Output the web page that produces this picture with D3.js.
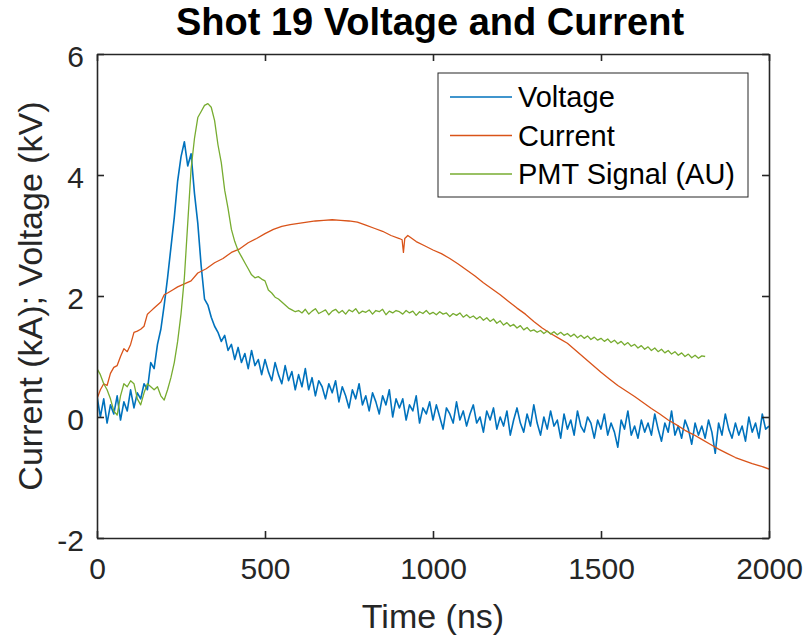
<!DOCTYPE html>
<html>
<head>
<meta charset="utf-8">
<script src="https://cdn.jsdelivr.net/npm/d3@7"></script>
<style>
  body { margin: 0; background: #fff; }
  text { font-family: "Liberation Sans", Arial, Helvetica, sans-serif; fill: #262626; }
</style>
</head>
<body>
<svg width="806" height="636"></svg>
<script>
var voltageDt = 10;
var pmtDt = 10;

// Voltage (kV), t = 0 .. 2000 ns
var voltageValues = [
  0.35, 0.0, 0.3, -0.1, 0.2, 0.05, 0.35, -0.05, 0.25, 0.1,
  0.45, 0.15, 0.4, 0.3, 0.55, 0.45, 0.9, 0.8, 1.2, 1.45,
  1.85, 2.3, 2.8, 3.3, 3.9, 4.3, 4.55, 4.15, 4.35, 3.7,
  3.2, 2.5, 1.95, 1.85, 1.65, 1.5, 1.4, 1.25, 1.35, 1.1,
  1.2, 0.95, 1.15, 0.9, 1.05, 0.8, 1.1, 0.85, 0.95, 0.7,
  0.95, 0.75, 0.6, 0.9, 0.7, 0.55, 0.85, 0.6, 0.75, 0.45,
  0.7, 0.5, 0.8, 0.45, 0.65, 0.35, 0.6, 0.5, 0.3, 0.55,
  0.4, 0.6, 0.25, 0.5, 0.35, 0.15, 0.45, 0.3, 0.55, 0.2,
  0.35, 0.1, 0.4, 0.25, 0.05, 0.35, 0.2, 0.45, 0.0, 0.3,
  0.15, 0.3, -0.05, 0.2, 0.1, 0.35, -0.1, 0.15, 0.05, 0.25,
  -0.05, 0.2, 0.0, -0.2, 0.15, 0.05, -0.1, 0.25, -0.05, 0.1,
  -0.15, 0.05, 0.2, -0.1, 0.0, -0.25, 0.1, -0.05, 0.15, -0.2,
  0.0, -0.15, 0.1, -0.3, -0.05, 0.15, -0.1, -0.25, 0.05, -0.15,
  0.2, -0.1, -0.3, 0.0, -0.2, 0.1, -0.15, -0.05, -0.35, 0.05,
  -0.2, -0.05, -0.3, 0.1, -0.15, -0.25, 0.0, -0.1, -0.35, -0.05,
  -0.2, 0.05, -0.3, -0.1, -0.25, -0.5, -0.05, -0.2, 0.1, -0.3,
  -0.15, -0.35, -0.05, -0.25, -0.1, -0.3, 0.05, -0.2, -0.4, -0.1,
  -0.25, 0.1, -0.3, -0.15, -0.35, -0.05, -0.2, -0.45, -0.1, -0.3,
  -0.15, -0.35, -0.05, -0.25, -0.6, -0.1, -0.3, 0.05, -0.2, -0.35,
  -0.1, -0.3, -0.15, -0.4, 0.0, -0.25, -0.1, -0.35, 0.05, -0.2,
  -0.15
];

// Current (kA)
var currentTimes = [
  0, 10, 20, 30, 40, 50, 60, 70, 80, 90, 100, 110, 120, 130, 140, 150, 160, 170, 180, 190,
  200, 210, 225, 240, 260, 280, 300, 325, 350, 375, 400, 425, 450, 475, 500, 525, 550, 575,
  600, 625, 650, 675, 700, 725, 750, 775, 800, 825, 850, 875, 900, 908, 912, 916, 925, 950,
  975, 1000, 1025, 1050, 1075, 1100, 1125, 1150, 1175, 1200, 1225, 1250, 1275, 1300, 1325,
  1350, 1375, 1400, 1425, 1450, 1475, 1500, 1525, 1550, 1575, 1600, 1625, 1650, 1675, 1700,
  1725, 1750, 1775, 1800, 1825, 1850, 1875, 1900, 1925, 1950, 1975, 2000
];
var currentValues = [
  0.3, 0.45, 0.55, 0.52, 0.72, 0.82, 0.85, 1.0, 1.13, 1.08, 1.2, 1.4, 1.42, 1.45, 1.5, 1.7, 1.75, 1.8, 1.85, 1.9,
  2.02, 2.05, 2.1, 2.15, 2.2, 2.25, 2.38, 2.45, 2.55, 2.62, 2.72, 2.78, 2.88, 2.95, 3.03, 3.1, 3.15, 3.18,
  3.2, 3.22, 3.24, 3.25, 3.26, 3.25, 3.24, 3.22, 3.17, 3.12, 3.07, 3.0, 2.95, 2.93, 2.72, 2.95, 3.0, 2.9,
  2.83, 2.76, 2.7, 2.62, 2.53, 2.43, 2.33, 2.22, 2.12, 2.02, 1.91, 1.8, 1.7, 1.58, 1.47,
  1.38, 1.3, 1.22, 1.1, 0.98, 0.86, 0.74, 0.63, 0.52, 0.43, 0.34, 0.24, 0.14, 0.05, -0.05,
  -0.13, -0.22, -0.29, -0.37, -0.45, -0.53, -0.6, -0.67, -0.72, -0.77, -0.81, -0.86
];

// PMT signal (AU), t = 0 .. 1810 ns
var pmtValues = [
  0.8, 0.7, 0.55, 0.45, 0.3, 0.1, 0.03, 0.35, 0.55, 0.5,
  0.6, 0.55, 0.3, 0.2, 0.4, 0.55, 0.5, 0.45, 0.5, 0.35,
  0.28, 0.45, 0.65, 0.9, 1.25, 1.7, 2.3, 3.2, 4.1, 4.6,
  4.95, 5.05, 5.15, 5.18, 5.12, 4.9, 4.5, 4.2, 3.75, 3.45,
  3.1, 2.9, 2.75, 2.65, 2.55, 2.45, 2.35, 2.3, 2.32, 2.28,
  2.25, 2.1, 2.05, 1.98, 1.95, 1.9, 1.85, 1.8, 1.77, 1.74,
  1.76, 1.72, 1.78, 1.70, 1.75, 1.79, 1.71, 1.74, 1.77, 1.69,
  1.75, 1.78, 1.72, 1.76, 1.70, 1.77, 1.74, 1.79, 1.71, 1.75,
  1.73, 1.77, 1.70, 1.76, 1.74, 1.78, 1.69, 1.75, 1.72, 1.76,
  1.74, 1.70, 1.76, 1.72, 1.75, 1.68, 1.74, 1.71, 1.76, 1.70,
  1.73, 1.69, 1.74, 1.70, 1.72, 1.66, 1.71, 1.68, 1.72, 1.65,
  1.69, 1.64, 1.67, 1.62, 1.66, 1.60, 1.64, 1.58, 1.62, 1.55,
  1.59, 1.52, 1.56, 1.50, 1.53, 1.47, 1.51, 1.44, 1.48, 1.42,
  1.44, 1.40, 1.43, 1.38, 1.42, 1.37, 1.41, 1.36, 1.40, 1.35,
  1.38, 1.33, 1.37, 1.31, 1.35, 1.30, 1.34, 1.28, 1.32, 1.27,
  1.30, 1.25, 1.29, 1.23, 1.27, 1.21, 1.25, 1.19, 1.23, 1.17,
  1.20, 1.14, 1.18, 1.12, 1.16, 1.10, 1.14, 1.08, 1.12, 1.06,
  1.10, 1.04, 1.08, 1.02, 1.06, 1.00, 1.04, 0.98, 1.02, 0.97,
  1.01, 1.00
];

var xTicks = [0, 500, 1000, 1500, 2000];
var yTicks = [-2, 0, 2, 4, 6];
var seriesNames = ["Voltage", "Current", "PMT Signal (AU)"];
var seriesColors = ["#0072BD", "#D95319", "#77AC30"];

function draw_chart() {
  var svg = d3.select("svg");
  var plotLeft = 97, plotRight = 769, plotTop = 54, plotBottom = 538;
  var axisColor = "#262626";
  var plainNumber = function(d) { return String(d); };   // hyphen minus like the original

  var x = d3.scaleLinear().domain([0, 2000]).range([plotLeft, plotRight]);
  var y = d3.scaleLinear().domain([-2, 6]).range([plotBottom, plotTop]);

  var voltage = voltageValues.map(function(v, i) { return [i * voltageDt, v]; });
  var current = currentTimes.map(function(t, i) { return [t, currentValues[i]]; });
  var pmt = pmtValues.map(function(v, i) { return [i * pmtDt, v]; });

  svg.append("defs").append("clipPath").attr("id", "plotclip")
    .append("rect").attr("x", plotLeft).attr("y", plotTop)
    .attr("width", plotRight - plotLeft).attr("height", plotBottom - plotTop);

  var line = d3.line()
    .x(function(d) { return x(d[0]); })
    .y(function(d) { return y(d[1]); });

  var lines = svg.append("g").attr("clip-path", "url(#plotclip)");
  [voltage, current, pmt].forEach(function(s, i) {
    lines.append("path")
      .datum(s)
      .attr("d", line)
      .attr("fill", "none")
      .attr("stroke", seriesColors[i])
      .attr("stroke-width", i == 0 ? 1.6 : 1.3)
      .attr("stroke-linejoin", "round");
  });

  // box with inward ticks on all four sides
  svg.append("g").attr("class", "xaxis").attr("transform", "translate(0," + plotBottom + ")")
    .call(d3.axisBottom(x).tickValues(xTicks).tickFormat(plainNumber)
      .tickSizeInner(-7).tickSizeOuter(0).tickPadding(20));
  svg.append("g").attr("transform", "translate(0," + plotTop + ")")
    .call(d3.axisTop(x).tickValues(xTicks).tickSizeInner(-7).tickSizeOuter(0).tickFormat(""));
  svg.append("g").attr("class", "yaxis").attr("transform", "translate(" + plotLeft + ",0)")
    .call(d3.axisLeft(y).tickValues(yTicks).tickFormat(plainNumber)
      .tickSizeInner(-7).tickSizeOuter(0).tickPadding(13));
  svg.append("g").attr("transform", "translate(" + plotRight + ",0)")
    .call(d3.axisRight(y).tickValues(yTicks).tickSizeInner(-7).tickSizeOuter(0).tickFormat(""));

  svg.selectAll(".domain").attr("stroke", axisColor).attr("stroke-width", 1.6);
  svg.selectAll(".tick line").attr("stroke", axisColor).attr("stroke-width", 1.6);
  svg.selectAll(".tick text").attr("fill", axisColor)
    .attr("font-size", 30).attr("font-family", "'Liberation Sans', Arial, sans-serif");
  svg.selectAll(".yaxis .tick text").attr("dy", "0.42em");

  svg.append("text")
    .attr("x", 430).attr("y", 35)
    .attr("text-anchor", "middle")
    .style("font-size", "38px").style("font-weight", "bold").style("fill", "#000")
    .text("Shot 19 Voltage and Current");

  svg.append("text")
    .attr("x", (plotLeft + plotRight) / 2).attr("y", 628)
    .attr("text-anchor", "middle")
    .style("font-size", "34px")
    .text("Time (ns)");

  svg.append("text")
    .attr("transform", "translate(42," + (plotTop + plotBottom) / 2 + ") rotate(-90)")
    .attr("text-anchor", "middle")
    .style("font-size", "34px")
    .text("Current (kA); Voltage (kV)");

  // legend
  var legend = svg.append("g");
  legend.append("rect")
    .attr("x", 438).attr("y", 73).attr("width", 310).attr("height", 124)
    .attr("fill", "#fff").attr("stroke", axisColor).attr("stroke-width", 1);
  seriesNames.forEach(function(name, i) {
    var ly = 97 + i * 38.5;
    legend.append("line")
      .attr("x1", 450).attr("x2", 512).attr("y1", ly).attr("y2", ly)
      .attr("stroke", seriesColors[i]).attr("stroke-width", 1.5);
    legend.append("text")
      .attr("x", 518).attr("y", ly).attr("dy", "0.36em")
      .style("font-size", "29px").style("fill", "#000")
      .text(name);
  });
}

draw_chart();
</script>
</body>
</html>
